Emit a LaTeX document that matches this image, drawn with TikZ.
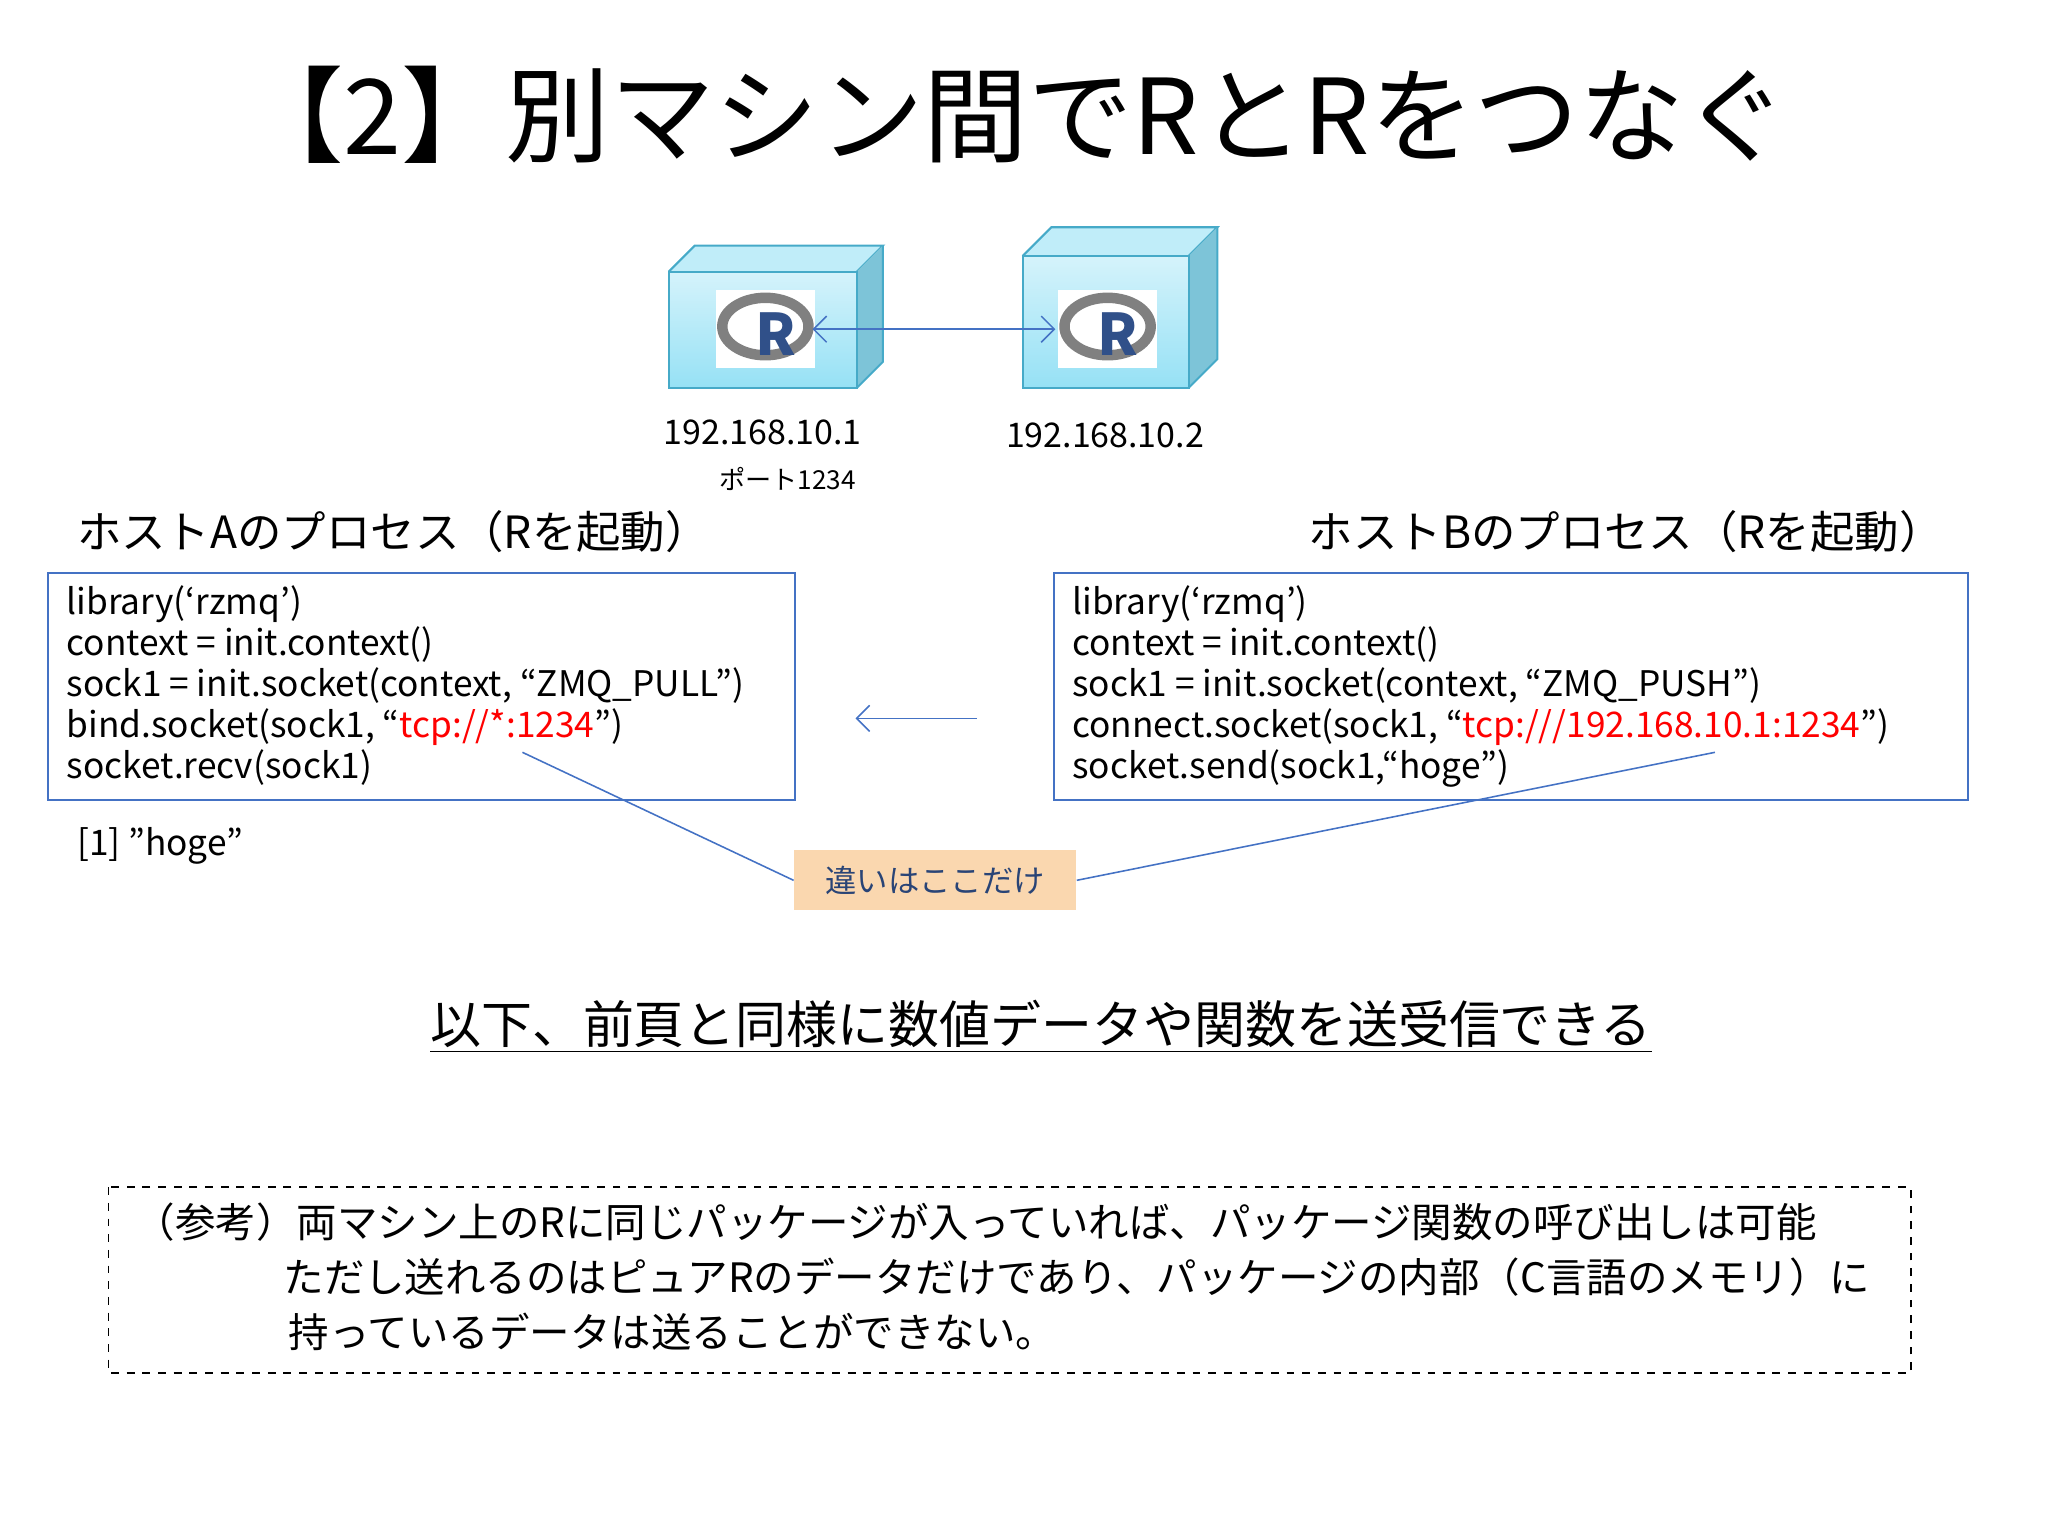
\documentclass[tikz,border=0pt]{standalone}
\usepackage{fontspec}
\setmainfont{Noto Sans CJK JP}
\usetikzlibrary{arrows.meta}
\definecolor{bl}{RGB}{68,114,196}
\definecolor{peach}{RGB}{250,215,175}
\definecolor{cyf}{RGB}{150,225,245}
\definecolor{cyd}{RGB}{70,170,200}
\tikzset{
 x=0.5pt,y=-0.5pt,
 code/.style={draw=bl,line width=0.7pt,inner sep=0},
 codetxt/.style={anchor=north west,align=left,font=\fontsize{13.5}{15.7}\selectfont},
 conn/.style={draw=bl,line width=0.6pt},
 cube/.style={draw=cyd,line width=0.8pt,top color=cyf!40,bottom color=cyf},
}
\newcommand{\rlogo}[2]{%
 \fill[white] (#1-38,#2-30) rectangle (#1+38,#2+30);
 \draw[gray,line width=4pt] (#1,#2-2) ellipse [x radius=33,y radius=22];
 \node[font=\fontsize{22}{22}\selectfont\bfseries,text=bl!70!black] at (#1+8,#2+4) {R};}
\begin{document}
\begin{tikzpicture}
\useasboundingbox (0,0) rectangle (1568,1176);
\node[font=\fontsize{40}{40}\selectfont] (title) at (776,88) {【2】別マシン間でRとRをつなぐ};
% cubes
\begin{scope}
\fill[cyf!60] (512,208) -- (532,188) -- (676,188) -- (656,208) -- cycle;
\draw[cyd,line width=0.8pt] (512,208) -- (532,188) -- (676,188) -- (656,208);
\fill[cyd!70] (656,208) -- (676,188) -- (676,277) -- (656,297) -- cycle;
\draw[cyd,line width=0.8pt] (676,188) -- (676,277) -- (656,297);
\path[cube] (512,208) rectangle (656,297);
\rlogo{586}{252}
\fill[cyf!60] (783,196) -- (805,174) -- (932,174) -- (910,196) -- cycle;
\draw[cyd,line width=0.8pt] (783,196) -- (805,174) -- (932,174) -- (910,196);
\fill[cyd!70] (910,196) -- (932,174) -- (932,275) -- (910,297) -- cycle;
\draw[cyd,line width=0.8pt] (932,174) -- (932,275) -- (910,297);
\path[cube] (783,196) rectangle (910,297);
\rlogo{848}{252}
\end{scope}
\coordinate (ra) at (622,252);
\coordinate (rb) at (808,252);
\draw[conn,{Straight Barb[length=5pt]}-{Straight Barb[length=5pt]}] (ra) -- (rb);
\node[font=\fontsize{13}{13}\selectfont] (ip1) at (584,331) {192.168.10.1};
\node[font=\fontsize{13}{13}\selectfont] (ip2) at (846,333) {192.168.10.2};
\node[font=\fontsize{10}{10}\selectfont] (port) at (603,367) {ポート1234};
\node[anchor=west,font=\fontsize{17}{17}\selectfont] (ha) at (52,407) {ホストAのプロセス（Rを起動）};
\node[anchor=west,font=\fontsize{17}{17}\selectfont] (hb) at (995,407) {ホストBのプロセス（Rを起動）};
\node[code,minimum width=286pt,minimum height=87pt,anchor=north west] (ba) at (36,438) {};
\node[code,minimum width=350pt,minimum height=87pt,anchor=north west] (bb) at (806,438) {};
\node[codetxt] (ta) at (44,441) {library(‘rzmq’)\\context = init.context()\\sock1 = init.socket(context, “ZMQ\_PULL”)\\bind.socket(sock1, “\textcolor{red}{tcp://*:1234}”)\\socket.recv(sock1)};
\node[codetxt] (tb) at (814,441) {library(‘rzmq’)\\context = init.context()\\sock1 = init.socket(context, “ZMQ\_PUSH”)\\connect.socket(sock1, “\textcolor{red}{tcp:///192.168.10.1:1234}”)\\socket.send(sock1,“hoge”)};
\coordinate (aa) at (748,550);
\coordinate (ab) at (655,550);
\draw[conn,-{Straight Barb[length=5pt]}] (aa) -- (ab);
\node[anchor=west,font=\fontsize{13.5}{13.5}\selectfont] (res) at (52,648) {[1] \char"0022 hoge\char"0022};
\node[fill=peach,minimum width=108pt,minimum height=23pt,text=bl!60!black,font=\fontsize{12}{12}\selectfont] (diff) at (716,674) {違いはここだけ};
\coordinate (pa) at (400,576);
\coordinate (pb) at (1313,576);
\draw[conn] (pa) -- (diff.west);
\draw[conn] (pb) -- (diff.east);
\node[font=\fontsize{19.5}{19.5}\selectfont] (msg) at (797,786) {\underline{以下、前頁と同様に数値データや関数を送受信できる}};
\draw[dashed,line width=0.6pt] (83,909) rectangle (1463,1051);
\node[anchor=north west,align=left,font=\fontsize{15.5}{21}\selectfont] (note) at (96,914) {（参考）両マシン上のRに同じパッケージが入っていれば、パッケージ関数の呼び出しは可能\\\hspace{57pt}ただし送れるのはピュアRのデータだけであり、パッケージの内部（C言語のメモリ）に\\\hspace{59pt}持っているデータは送ることができない。};
\end{tikzpicture}
\end{document}
